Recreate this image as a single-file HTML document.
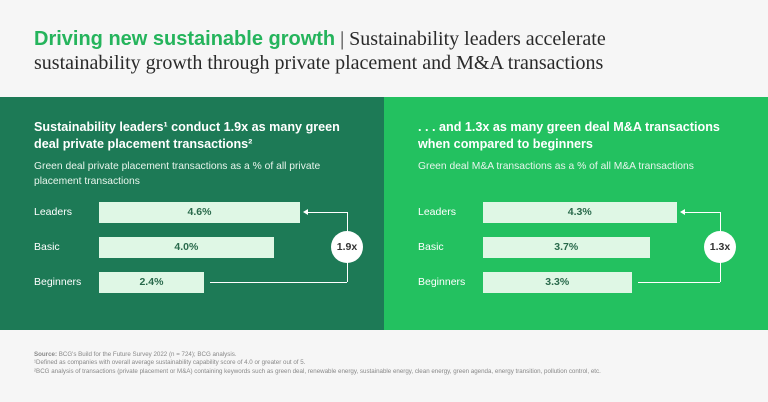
<!DOCTYPE html>
<html><head><meta charset="utf-8"><style>
body{margin:0;width:768px;height:402px;background:#f6f6f6;font-family:"Liberation Sans",sans-serif;overflow:hidden;position:relative}
.t{position:absolute;left:34px;top:27px;font-size:20px;line-height:24px;color:#2a2a2a;font-family:"Liberation Serif",serif}
.t b{color:#25b45c;font-family:"Liberation Sans",sans-serif}
.p{position:absolute;top:97px;height:233px;width:384px}
h2{position:absolute;margin:0;font-size:12.6px;line-height:17px;color:#fff;font-weight:bold}
.s{position:absolute;font-size:10.3px;line-height:15px;color:#e8f5ec}
.lab{position:absolute;font-size:10.5px;color:#fff}
.bar{position:absolute;height:21px;background:#dff7e5;color:#2a6a4c;font-weight:bold;font-size:10.5px;text-align:center;line-height:21px}
.ln{position:absolute;background:#fff}
.c{position:absolute;width:32px;height:32px;border-radius:50%;background:#fff;color:#333;font-size:10.5px;font-weight:bold;text-align:center;line-height:32px}
.f{position:absolute;left:34px;font-size:6.2px;color:#888;line-height:8.3px}
</style></head><body>
<div class="t"><b>Driving new sustainable growth</b> | Sustainability leaders accelerate<br>sustainability growth through private placement and M&amp;A transactions</div>
<div class="p" style="left:0;background:#1d7a56">
<h2 style="left:34px;top:22px">Sustainability leaders¹ conduct 1.9x as many green<br>deal private placement transactions²</h2>
<div class="s" style="left:34px;top:62px">Green deal private placement transactions as a % of all private<br>placement transactions</div>
</div>
<div class="p" style="left:384px;background:#23c160">
<h2 style="left:34px;top:22px">. . . and 1.3x as many green deal M&amp;A transactions<br>when compared to beginners</h2>
<div class="s" style="left:34px;top:62px">Green deal M&amp;A transactions as a % of all M&amp;A transactions</div>
</div>
<div id="charts"></div>
<div class="f" style="top:351px"><b>Source:</b> BCG's Build for the Future Survey 2022 (n = 724); BCG analysis.<br>¹Defined as companies with overall average sustainability capability score of 4.0 or greater out of 5.<br>²BCG analysis of transactions (private placement or M&amp;A) containing keywords such as green deal, renewable energy, sustainable energy, clean energy, green agenda, energy transition, pollution control, etc.</div>
<script>
const categories=["Leaders","Basic","Beginners"];
const leftValues=[4.6,4.0,2.4];
const rightValues=[4.3,3.7,3.3];
const leftRatio="1.9x";
const rightRatio="1.3x";
const root=document.getElementById('charts');
function add(cls,style,text){const d=document.createElement('div');d.className=cls;d.style.cssText=style;if(text!=null)d.textContent=text;root.appendChild(d);return d;}
function panel(px,vals,ratio,scale,cx,side){
  const rowY=i=>202+i*35;
  const w=v=>v*scale;
  categories.forEach((c,i)=>{
    const l=add('lab',`left:${px+34}px;top:${rowY(i)+4}px`,c);
    
    
    const b=add('bar',`left:${px+99}px;top:${rowY(i)}px;width:${w(vals[i])}px`,vals[i].toFixed(1)+'%');
    
    
  });
  const x1=px+99+w(vals[0])+8, x3=px+99+w(vals[2])+6;
  const y1=rowY(0)+10, y3=rowY(2)+10;
  let e;
  e=add('ln',`left:${x1}px;top:${y1}px;width:${px+cx-x1}px;height:1px`);
  
  e=add('',`position:absolute;left:${x1-5}px;top:${y1-3}px;width:0;height:0;border-top:3.5px solid transparent;border-bottom:3.5px solid transparent;border-right:5px solid #fff`);
  
  e=add('ln',`left:${px+cx}px;top:${y1}px;width:1px;height:${y3-y1}px`);
  
  e=add('ln',`left:${x3}px;top:${y3}px;width:${px+cx-x3}px;height:1px`);
  
  e=add('c',`left:${px+cx-16}px;top:${(y1+y3)/2-16}px`,ratio);
  
}
panel(0,leftValues,leftRatio,43.7,347,'left');
panel(384,rightValues,rightRatio,45,336,'right');
</script>
</body></html>
